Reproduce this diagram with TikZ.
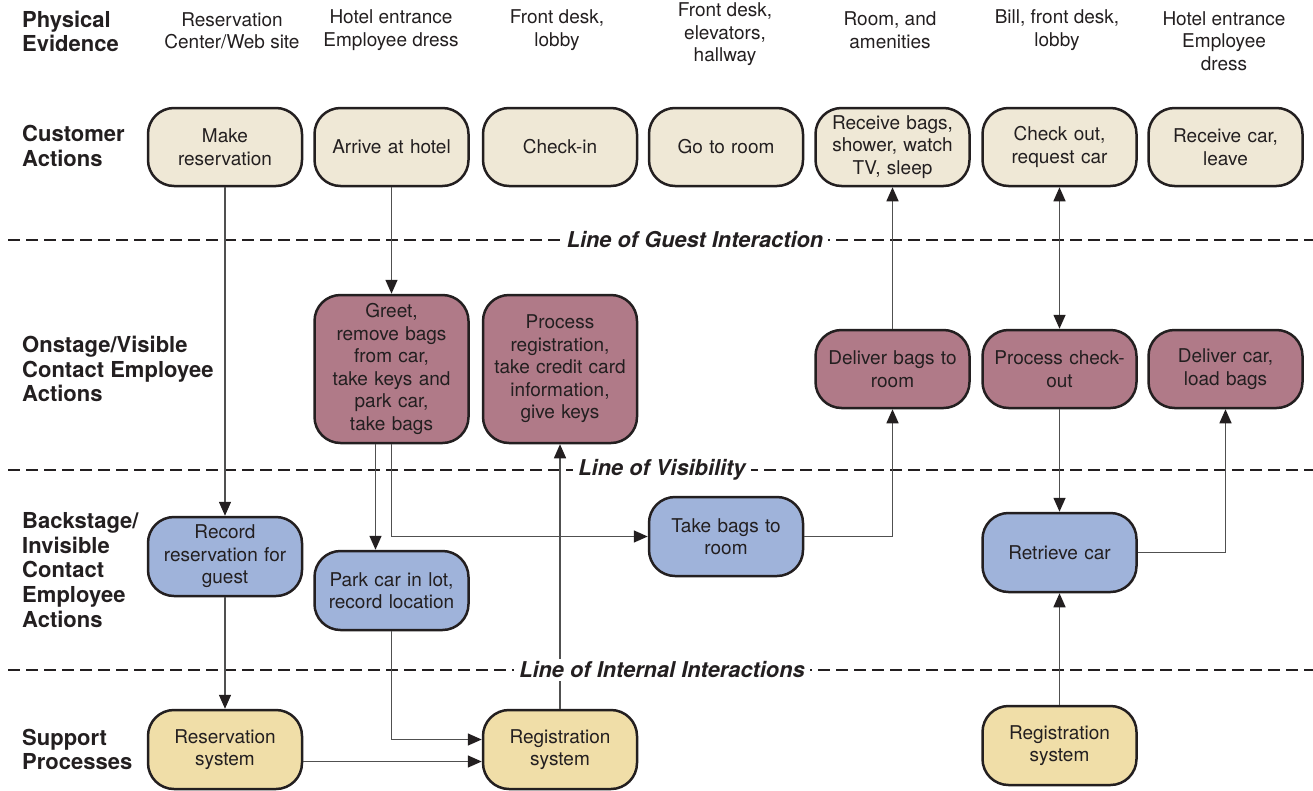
\documentclass[tikz,border=0pt]{standalone}
\usepackage{fontspec}
\setmainfont{TeX Gyre Heros}
\usetikzlibrary{arrows.meta}

\definecolor{ink}{RGB}{35,31,32}
\definecolor{wire}{RGB}{80,80,80}
\definecolor{custfill}{RGB}{239,232,214}
\definecolor{onfill}{RGB}{176,122,136}
\definecolor{backfill}{RGB}{159,179,218}
\definecolor{suppfill}{RGB}{240,222,168}

\tikzset{
  box/.style={draw=ink, line width=2.5pt, rounded corners=26pt,
    minimum width=154pt, minimum height=78pt, text width=148pt,
    align=center, inner sep=0pt, text=ink,
    font=\fontsize{19}{22.5}\selectfont},
  custbox/.style={box, fill=custfill},
  onbox/.style={box, fill=onfill},
  backbox/.style={box, fill=backfill},
  suppbox/.style={box, fill=suppfill},
  rowlabel/.style={anchor=west, align=left, inner sep=0pt, text=ink,
    font=\fontsize{22}{24.7}\selectfont\bfseries},
  evidence/.style={align=center, inner sep=0pt, text=ink,
    font=\fontsize{19}{22.5}\selectfont},
  divider/.style={draw=ink, line width=2.6pt, dash pattern=on 12pt off 6pt},
  linelabel/.style={fill=white, inner xsep=5pt, inner ysep=3pt, text=ink,
    font=\fontsize{21.8}{24}\selectfont\bfseries\itshape},
  flow/.style={draw=wire, line width=1.5pt,
    -{Triangle[length=14pt,width=12pt,color=ink]}},
  twoway/.style={draw=wire, line width=1.5pt,
    {Triangle[length=14pt,width=12pt,color=ink]}-{Triangle[length=14pt,width=12pt,color=ink]}},
}

\begin{document}
\begin{tikzpicture}[x=1pt,y=-1pt]
\useasboundingbox (0,0) rectangle (1313,790);

% dividing lines
\coordinate (g0) at (8,240);   \coordinate (g1) at (1313,240);
\coordinate (v0) at (8,470);   \coordinate (v1) at (1313,470);
\coordinate (i0) at (8,670);   \coordinate (i1) at (1313,670);
\draw[divider] (g0) -- (g1);
\draw[divider] (v0) -- (v1);
\draw[divider] (i0) -- (i1);

% row labels
\node[rowlabel] (rPE) at (22,31.5) {Physical\\Evidence};
\node[rowlabel] (rCA) at (22,146) {Customer\\Actions};
\node[rowlabel] (rON) at (22,369) {Onstage/Visible\\Contact Employee\\Actions};
\node[rowlabel] (rBS) at (22,570) {Backstage/\\Invisible\\Contact\\Employee\\Actions};
\node[rowlabel] (rSP) at (22,749.5) {Support\\Processes};

% physical evidence
\node[evidence] (pe1) at (232,31) {Reservation\\Center/Web site};
\node[evidence] (pe2) at (391,30) {Hotel entrance\\Employee dress};
\node[evidence] (pe3) at (557,30) {Front desk,\\lobby};
\node[evidence] (pe4) at (725,34.5) {Front desk,\\elevators,\\hallway};
\node[evidence] (pe5) at (890,30) {Room, and\\amenities};
\node[evidence] (pe6) at (1057,30) {Bill, front desk,\\lobby};
\node[evidence] (pe7) at (1224,41) {Hotel entrance\\Employee\\dress};

% customer actions
\node[custbox] (ca1) at (225,147) {Make\\reservation};
\node[custbox] (ca2) at (391.5,147) {Arrive at hotel};
\node[custbox] (ca3) at (560,147) {Check-in};
\node[custbox] (ca4) at (726,147) {Go to room};
\node[custbox] (ca5) at (892.5,147) {Receive bags,\\shower, watch\\TV, sleep};
\node[custbox] (ca6) at (1059.5,147) {Check out,\\request car};
\node[custbox] (ca7) at (1225.5,147) {Receive car,\\leave};

% onstage actions
\node[onbox, minimum height=148pt] (on2) at (391.5,369) {Greet,\\remove bags\\from car,\\take keys and\\park car,\\take bags};
\node[onbox, minimum height=148pt] (on3) at (560,369) {Process\\registration,\\take credit card\\information,\\give keys};
\node[onbox] (on5) at (892.5,369) {Deliver bags to\\room};
\node[onbox] (on6) at (1059.5,369) {Process check-\\out};
\node[onbox] (on7) at (1225.5,369) {Deliver car,\\load bags};

% backstage actions
\node[backbox, minimum height=79pt] (bs1) at (225,556.5) {Record\\reservation for\\guest};
\node[backbox, minimum height=79pt] (bs2) at (391.5,590.5) {Park car in lot,\\record location};
\node[backbox, minimum height=79pt] (bs4) at (726,536.5) {Take bags to\\room};
\node[backbox, minimum height=79pt] (bs6) at (1059.5,552.5) {Retrieve car};

% support processes
\node[suppbox, minimum height=79pt] (sp1) at (225,749.5) {Reservation\\system};
\node[suppbox, minimum height=79pt] (sp3) at (560,749.5) {Registration\\system};
\node[suppbox, minimum height=79pt] (sp6) at (1059.5,745.5) {Registration\\system};

% flows
\draw[flow] (ca1) -- (bs1);
\draw[flow] (bs1) -- (sp1);
\draw[flow] (ca2) -- (on2);
\draw[flow] ([xshift=-16pt]on2.south) -- ([xshift=-16pt]on2.south |- bs2.north);
\draw[flow] (on2.south) |- (bs4.west);
\draw[flow] (bs2.south) |- ([yshift=10pt]sp3.west);
\draw[flow] ([yshift=-12pt]sp1.east) -- ([yshift=-12pt]sp3.west);
\draw[flow] (sp3) -- (on3);
\draw[flow] (bs4.east) -| (on5.south);
\draw[flow] (on5) -- (ca5);
\draw[twoway] (ca6) -- (on6);
\draw[flow] (on6) -- (bs6);
\draw[flow] (bs6.east) -| (on7.south);
\draw[flow] (sp6) -- (bs6);

% line names
\node[linelabel] (lGuest) at (695,240) {Line of Guest Interaction};
\node[linelabel] (lVis) at (662,470) {Line of Visibility};
\node[linelabel] (lInt) at (662,670) {Line of Internal Interactions};
\end{tikzpicture}
\end{document}
